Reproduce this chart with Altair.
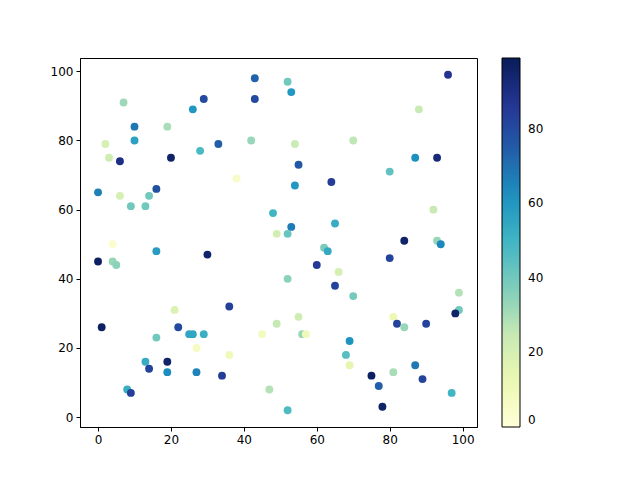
import pandas as pd
import altair as alt

# scatter points (x, y, colour value)
xs = [43, 29, 43, 7, 26, 10, 19, 10, 42, 2, 33, 3, 20, 6, 28, 38, 16, 0, 6, 14,
      9, 13, 48, 49, 4,
      52, 53, 96, 88, 54, 70, 55, 87, 93, 80, 64, 54, 92, 65, 53, 52, 62, 84, 93, 94,
      16, 30, 0, 4, 5, 36, 21, 49, 1, 22, 45, 25, 26, 29, 16, 27, 36, 13, 19, 14,
      19, 27, 34, 8, 9, 47,
      63, 80, 60, 66, 52, 65, 70, 99, 99, 98, 55, 81, 82, 84, 90, 56, 57, 69, 68, 69,
      75, 77, 81, 87, 89, 97, 78, 52]
ys = [98, 92, 92, 91, 89, 84, 84, 80, 80, 79, 79, 75, 75, 74, 77, 69, 66, 65, 64, 64,
      61, 61, 59, 53, 50,
      97, 94, 99, 89, 79, 80, 73, 75, 75, 71, 68, 67, 60, 56, 55, 53, 49, 51, 51, 50,
      48, 47, 45, 45, 44, 32, 31, 27, 26, 26, 24, 24, 24, 24, 23, 20, 18, 16, 16, 14,
      13, 13, 12, 8, 7, 8,
      48, 46, 44, 42, 40, 38, 35, 36, 31, 30, 29, 29, 27, 26, 27, 24, 24, 22, 18, 15,
      12, 9, 13, 15, 11, 7, 3, 2]
cs = [73, 80, 80, 32, 60, 68, 30, 57, 33, 20, 74, 22, 96, 90, 48, 5, 78, 66, 20, 40,
      40, 40, 50, 21, 3,
      40, 60, 87, 24, 23, 26, 76, 62, 92, 43, 84, 60, 24, 53, 67, 42, 38, 96, 33, 64,
      58, 95, 97, 33, 35, 83, 18, 25, 97, 80, 8, 55, 55, 52, 40, 7, 10, 53, 95, 82,
      63, 65, 84, 52, 83, 28,
      54, 82, 85, 20, 35, 82, 39, 28, 40, 96, 22, 12, 82, 33, 82, 33, 10, 61, 45, 15,
      97, 74, 30, 68, 82, 50, 96, 47]

# YlGnBu stops, spread evenly over 0..99
ylgnbu = ['#ffffd9', '#edf8b1', '#c7e9b4', '#7fcdbb', '#41b6c4',
          '#1d91c0', '#225ea8', '#253494', '#081d58']
stops = [99 * i / 8 for i in range(9)]

df = pd.DataFrame({'x': xs, 'y': ys, 'c': cs})

chart = alt.Chart(df).mark_circle(size=62, opacity=1).encode(
    alt.X('x:Q', scale=alt.Scale(domain=[-4.95, 103.95], nice=False, zero=False),
          axis=alt.Axis(values=[0, 20, 40, 60, 80, 100], title=None)),
    alt.Y('y:Q', scale=alt.Scale(domain=[-2.85, 103.85], nice=False, zero=False),
          axis=alt.Axis(values=[0, 20, 40, 60, 80, 100], title=None)),
    alt.Color('c:Q', scale=alt.Scale(domain=stops, range=ylgnbu, interpolate='rgb'),
              legend=alt.Legend(title=None, orient='none', direction='vertical',
                                legendX=422, legendY=0, gradientLength=369,
                                gradientThickness=18, gradientStrokeColor='black',
                                gradientStrokeWidth=1, values=[0, 20, 40, 60, 80],
                                labelBaseline='middle', labelOffset=8,
                                labelFontSize=12, labelFont='DejaVu Sans',
                                labelColor='black')),
).properties(
    width=397, height=369,
    autosize=alt.AutoSizeParams(type='none'),
    padding={'left': 72, 'top': 50, 'right': 100, 'bottom': 40},
).configure_view(
    stroke='black', strokeWidth=1
).configure_axis(
    grid=False, domainColor='black', tickColor='black', tickSize=4,
    labelColor='black', labelFontSize=12, labelFont='DejaVu Sans', labelPadding=3
)

chart.save("out.html", embed_options={"renderer": "svg", "actions": False})
